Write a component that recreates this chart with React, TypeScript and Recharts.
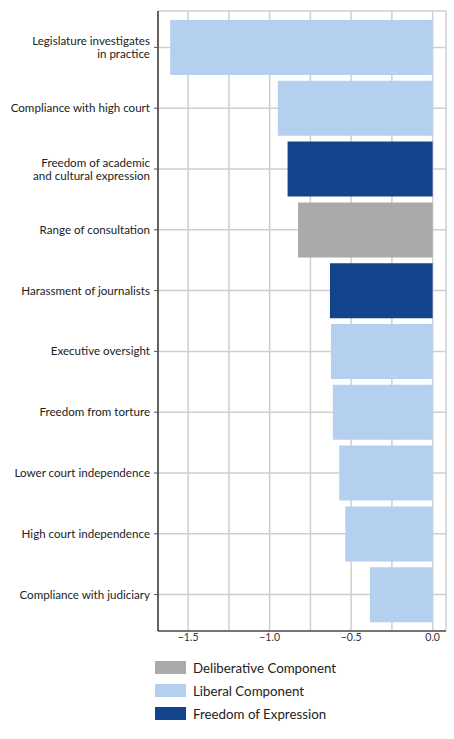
import { Bar, BarChart, CartesianGrid, Cell, XAxis, YAxis } from "recharts";

const categories = [
  "Legislature investigates\nin practice",
  "Compliance with high court",
  "Freedom of academic\nand cultural expression",
  "Range of consultation",
  "Harassment of journalists",
  "Executive oversight",
  "Freedom from torture",
  "Lower court independence",
  "High court independence",
  "Compliance with judiciary",
];
const values = [-1.61, -0.95, -0.89, -0.826, -0.63, -0.624, -0.612, -0.573, -0.536, -0.385];
const groups = ["lib", "lib", "foe", "del", "foe", "lib", "lib", "lib", "lib", "lib"];
const xTicks = [-1.5, -1.25, -1.0, -0.75, -0.5, -0.25, 0];
const legendItems = [
  { key: "del", label: "Deliberative Component" },
  { key: "lib", label: "Liberal Component" },
  { key: "foe", label: "Freedom of Expression" },
];

const colors: Record<string, string> = {
  del: "#a9aaa9",
  lib: "#b4d0ee",
  foe: "#14448c",
};

const data = categories.map((name, i) => ({ name, value: values[i], group: groups[i] }));

const FONT = "Lato, 'Noto Sans', sans-serif";

function YTick({ x, y, payload }: any) {
  const lines = String(payload.value).split("\n");
  const startDy = -((lines.length - 1) * 13) / 2;
  return (
    <text x={x} y={y} textAnchor="end" fontFamily={FONT} fontSize={11.6} fill="#222">
      {lines.map((line, i) => (
        <tspan key={i} x={x} dy={i === 0 ? startDy + 4 : 13}>
          {line}
        </tspan>
      ))}
    </text>
  );
}

function XTick({ x, y, payload }: any) {
  const v = payload.value as number;
  if (Math.abs(Math.round(v * 2) - v * 2) > 1e-6) return null;
  const label = v === 0 ? "0.0" : "\u2212" + Math.abs(v).toFixed(1);
  return (
    <text x={x} y={y} dy={8} textAnchor="middle" fontFamily={FONT} fontSize={10.5} fill="#333">
      {label}
    </text>
  );
}

export default function App() {
  return (
    <div style={{ position: "absolute", left: 0, top: 0, width: 454, height: 739, background: "#fff" }}>
      <BarChart
        width={454}
        height={660}
        data={data}
        layout="vertical"
        margin={{ top: 11, right: 8, bottom: 0, left: 0 }}
      >
        <CartesianGrid stroke="#cfcfcf" strokeWidth={1.5} />
        <XAxis
          type="number"
          domain={[-1.685, 0.082]}
          ticks={xTicks}
          allowDataOverflow
          height={29}
          tickLine={false}
          tickSize={2}
          tickMargin={0}
          axisLine={{ stroke: "#111", strokeWidth: 1.2 }}
          tick={<XTick />}
        />
        <YAxis
          type="category"
          dataKey="name"
          width={158}
          padding={{ top: 6, bottom: 6 }}
          tickSize={4}
          tickMargin={4}
          tickLine={{ stroke: "#555" }}
          axisLine={{ stroke: "#111", strokeWidth: 1.2 }}
          tick={<YTick />}
          interval={0}
        />
        <Bar dataKey="value" barSize={55} isAnimationActive={false}>
          {data.map((d, i) => (
            <Cell key={i} fill={colors[d.group]} />
          ))}
        </Bar>
      </BarChart>
      <div style={{ position: "absolute", left: 155, top: 656, fontFamily: FONT, fontSize: 13.3, color: "#222" }}>
        {legendItems.map((item) => (
          <div key={item.key} style={{ display: "flex", alignItems: "center", height: 23 }}>
            <span style={{ display: "inline-block", width: 31, height: 13, background: colors[item.key], marginRight: 7 }} />
            {item.label}
          </div>
        ))}
      </div>
    </div>
  );
}
